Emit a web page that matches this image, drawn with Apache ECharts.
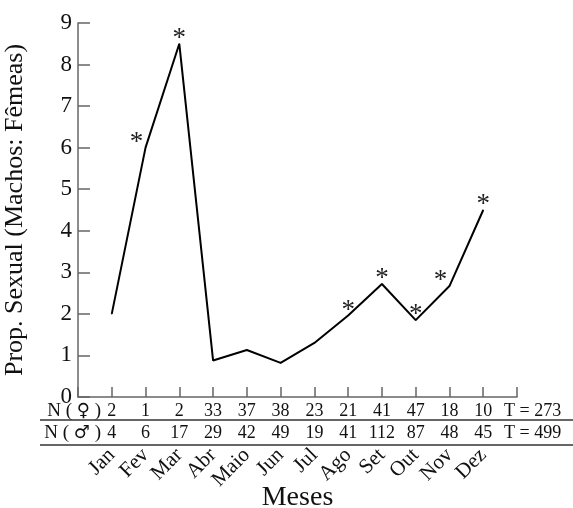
<!DOCTYPE html>
<html>
<head>
<meta charset="utf-8">
<script src="https://cdn.jsdelivr.net/npm/echarts@6/dist/echarts.min.js"></script>
<style>
  html, body { margin: 0; padding: 0; background: #fff; }
  #chart { width: 573px; height: 508px; }
</style>
</head>
<body>
<div id="chart"></div>
<script>
(function(){
  /** Data */
  var months = ['Jan', 'Fev', 'Mar', 'Abr', 'Maio', 'Jun', 'Jul', 'Ago', 'Set', 'Out', 'Nov', 'Dez'];
  var ratio = [2.0, 6.0, 8.5, 0.88, 1.13, 0.82, 1.3, 1.96, 2.72, 1.85, 2.67, 4.5];
  var significant = [0, 1, 1, 0, 0, 0, 0, 1, 1, 1, 1, 1];
  var females = [2, 1, 2, 33, 37, 38, 23, 21, 41, 47, 18, 10];
  var males = [4, 6, 17, 29, 42, 49, 19, 41, 112, 87, 48, 45];
  var femaleTotal = 273;
  var maleTotal = 499;
  var yTicks = [0, 1, 2, 3, 4, 5, 6, 7, 8, 9];

  var font = 'Liberation Serif';
  var axisGrey = '#666';

  /** Line points, asterisk where significant */
  var points = ratio.map(function(v, i) {
    var leftShift = (i === 1 || i === 10) ? -9 : 0;
    return {
      value: [i + 1, v],
      label: {
        show: significant[i] === 1,
        offset: [leftShift, 9]
      }
    };
  });

  function tableAxis(values, offset) {
    return {
      type: 'value',
      position: 'bottom',
      min: 0,
      max: 13,
      interval: 1,
      offset: offset,
      axisLine: { show: false },
      axisTick: { show: false },
      splitLine: { show: false },
      axisLabel: {
        margin: 0,
        verticalAlign: 'middle',
        fontFamily: font,
        fontSize: 18,
        color: '#111',
        formatter: function(v) {
          var n = values[v - 1];
          return n === undefined ? '' : String(n);
        }
      }
    };
  }

  /** Row caption like N ( ♀ ) with a larger sex symbol */
  function rowName(symbol, y) {
    return {
      type: 'text', x: 101, y: y,
      style: {
        text: '{t|N ( }{s|' + symbol + '}{t| )}',
        align: 'right', verticalAlign: 'middle',
        rich: {
          t: { fontFamily: font, fontSize: 19, fill: '#111' },
          s: { fontFamily: 'DejaVu Sans', fontSize: 18, fill: '#111' }
        }
      }
    };
  }

  function rowTotal(total, y) {
    return {
      type: 'text', x: 504, y: y,
      style: { text: 'T = ' + total, font: '18px "Liberation Serif"', fill: '#111', align: 'left', verticalAlign: 'middle' }
    };
  }

  var option = {
    animation: false,
    backgroundColor: '#fff',
    grid: { left: 78, right: 56, top: 23, bottom: 111, outerBoundsMode: 'none', containLabel: false },
    xAxis: [
      {
        type: 'value',
        position: 'bottom',
        min: 0,
        max: 13,
        interval: 1,
        axisLine: { lineStyle: { color: axisGrey, width: 1.5 } },
        axisTick: { inside: true, length: 10, lineStyle: { color: axisGrey, width: 1.5 } },
        splitLine: { show: false },
        axisLabel: {
          rotate: 45,
          margin: 55,
          fontFamily: font,
          fontSize: 21,
          color: '#111',
          formatter: function(v) { return months[v - 1] || ''; }
        },
        name: 'Meses',
        nameLocation: 'middle',
        nameGap: 87,
        nameMoveOverlap: false,
        nameTextStyle: { fontFamily: font, fontSize: 28, color: '#111' }
      },
      tableAxis(females, 14.5),
      tableAxis(males, 36)
    ],
    yAxis: {
      type: 'value',
      min: yTicks[0],
      max: yTicks[yTicks.length - 1],
      interval: 1,
      axisLine: { show: true, lineStyle: { color: axisGrey, width: 1.5 } },
      axisTick: { show: true, inside: true, length: 12, lineStyle: { color: axisGrey, width: 1.5 } },
      splitLine: { show: false },
      axisLabel: { margin: 6, fontFamily: font, fontSize: 23, color: '#111' },
      name: 'Prop. Sexual (Machos: F\u00eameas)',
      nameLocation: 'middle',
      nameGap: 50,
      nameMoveOverlap: false,
      nameTextStyle: { fontFamily: font, fontSize: 26, color: '#111' }
    },
    graphic: [
      { type: 'line', shape: { x1: 40, y1: 420, x2: 573, y2: 420 }, style: { stroke: axisGrey, lineWidth: 2 } },
      { type: 'line', shape: { x1: 40, y1: 445, x2: 573, y2: 445 }, style: { stroke: axisGrey, lineWidth: 2 } },
      rowName('\u2640', 411.5),
      rowName('\u2642', 433),
      rowTotal(femaleTotal, 411.5),
      rowTotal(maleTotal, 433)
    ],
    series: [
      {
        type: 'line',
        data: points,
        symbol: 'circle',
        symbolSize: 1,
        itemStyle: { color: '#000' },
        lineStyle: { color: '#000', width: 2 },
        label: {
          position: 'top',
          distance: 0,
          formatter: '*',
          fontFamily: font,
          fontSize: 27,
          color: '#222'
        }
      }
    ]
  };

  echarts.init(document.getElementById('chart')).setOption(option);
})();
</script>
</body>
</html>
